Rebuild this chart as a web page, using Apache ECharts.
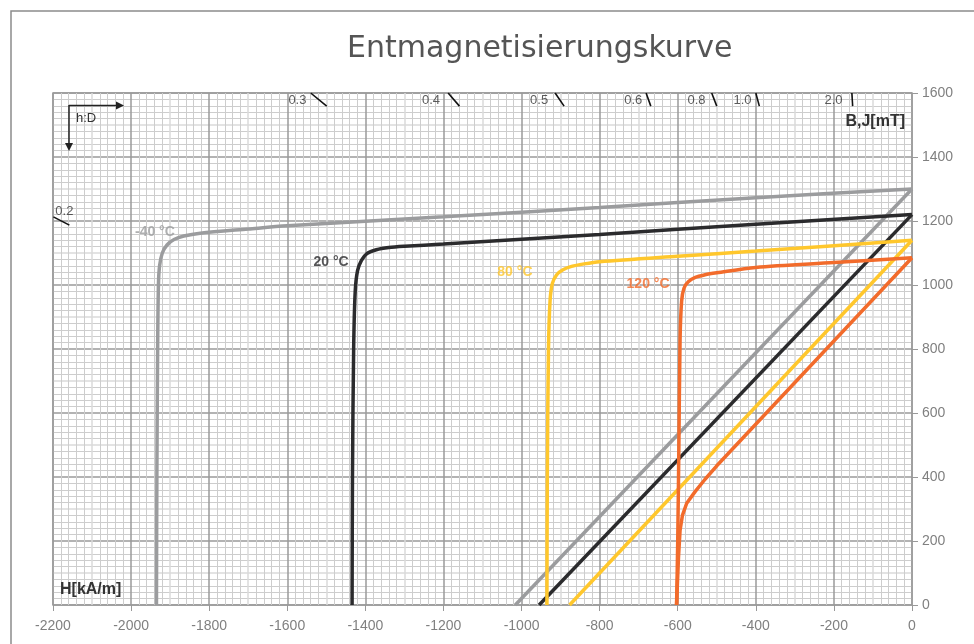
<!DOCTYPE html>
<html>
<head>
<meta charset="utf-8">
<script src="https://cdn.jsdelivr.net/npm/echarts@6/dist/echarts.min.js"></script>
<style>
  html, body { margin: 0; padding: 0; background: #fff; }
  #main { width: 974px; height: 644px; }
</style>
</head>
<body>
<div id="main"></div>
<script>
// H in kA/m, B/J in mT
const tempNames = ["-40 °C", "20 °C", "80 °C", "120 °C"];

const jMinus40 = [[-1935, 0], [-1934, 400], [-1932, 800], [-1930, 1000], [-1927, 1060], [-1920, 1100], [-1908, 1125], [-1890, 1142], [-1865, 1153], [-1823, 1162], [-1700, 1175], [-1600, 1185], [-1200, 1213], [-800, 1242], [-400, 1273], [0, 1300]];
const bMinus40 = [[-1016, 0], [0, 1300]];

const j20 = [[-1434, 0], [-1433, 400], [-1430, 800], [-1426, 980], [-1420, 1045], [-1410, 1077], [-1396, 1098], [-1372, 1110], [-1340, 1117], [-1300, 1121], [-1200, 1128], [-800, 1158], [-400, 1190], [0, 1220]];
const b20 = [[-955, 0], [0, 1220]];

const j80 = [[-935, 0], [-934, 400], [-931, 800], [-927, 950], [-921, 1005], [-910, 1032], [-895, 1047], [-872, 1058], [-840, 1066], [-800, 1073], [-600, 1090], [-400, 1106], [0, 1140]];
const b80 = [[-877, 0], [0, 1140]];

const j120 = [[-603, 0], [-600, 200], [-597, 500], [-594, 830], [-590, 950], [-584, 990], [-573, 1010], [-555, 1024], [-530, 1032], [-500, 1038], [-400, 1055], [-200, 1070], [0, 1085]];
const b120 = [[-603, 0], [-601, 60], [-598, 150], [-594, 234], [-588, 280], [-577, 318], [-555, 355], [-530, 393], [-500, 435], [0, 1085]];

// where the temperature names sit
const tempLabelAt = [[-1939, 1166], [-1488, 1072], [-1017, 1041], [-676, 1003]];

// h:D marks along the top
const hdNames = ["0.2", "0.3", "0.4", "0.5", "0.6", "0.8", "1.0", "2.0"];
const hdStart = [[-2199, 1213], [-1540, 1600], [-1188, 1600], [-914, 1600], [-681, 1600], [-513, 1600], [-400, 1600], [-154, 1600]];
const hdEnd = [[-2158, 1187], [-1499, 1559], [-1159, 1559], [-891, 1559], [-669, 1559], [-500, 1559], [-391, 1559], [-152, 1559]];
const hdLabelAt = [[-2171, 1231], [-1574, 1578], [-1232, 1578], [-955, 1578], [-714, 1578], [-552, 1578], [-434, 1578], [-201, 1578]];

const colors = ["#9b9c9e", "#2b2b2d", "#ffc72c", "#f26b2b"];
const curves = [[jMinus40, bMinus40], [j20, b20], [j80, b80], [j120, b120]];

function textSeries(point, text, color, font) {
  return {
    type: "scatter",
    data: [point],
    symbol: "circle",
    symbolSize: 2,
    itemStyle: { color: "rgba(0,0,0,0)" },
    label: Object.assign({
      show: true,
      position: "inside",
      formatter: text,
      color: color,
      fontFamily: "Liberation Sans"
    }, font),
    labelLayout: { hideOverlap: false },
    z: 12,
    silent: true
  };
}

var series = [];
curves.forEach(function (pair, i) {
  pair.forEach(function (pts, k) {
    series.push({
      type: "line",
      data: pts,
      xAxisIndex: 0,
      yAxisIndex: 0,
      symbol: "none",
      smooth: k === 0 ? 0.3 : false,
      lineStyle: { color: colors[i], width: 3.5 },
      z: 5 + i,
      silent: true
    });
  });
  series.push(textSeries(tempLabelAt[i], tempNames[i], colors[i], { fontWeight: "bold", fontSize: 14 }));
});

hdNames.forEach(function (name, i) {
  series.push({
    type: "line",
    data: [hdStart[i], hdEnd[i]],
    symbol: "none",
    lineStyle: { color: "#111", width: 1.6 },
    z: 10,
    silent: true
  });
  series.push(textSeries(hdLabelAt[i], name, "#333", { fontSize: 13 }));
});

function plain(v) { return String(v); }

var option = {
  animation: false,
  title: {
    text: "Entmagnetisierungskurve",
    left: 342,
    top: 29,
    textStyle: { fontFamily: "DejaVu Sans", fontSize: 30, fontWeight: "normal", color: "#555" }
  },
  grid: {
    left: 53, right: 62, top: 93, bottom: 39,
    show: true, borderColor: "#999", borderWidth: 1.5
  },
  xAxis: [
    {
      type: "value", min: -2200, max: 0, interval: 100,
      axisLine: { show: false }, axisTick: { show: false }, axisLabel: { show: false },
      splitLine: { show: true, lineStyle: { color: ["#9a9a9a", "#dadada"], width: 1.5 } },
      minorTick: { show: false, splitNumber: 5 },
      minorSplitLine: { show: true, lineStyle: { color: "#cdcdcd", width: 1 } }
    },
    {
      type: "value", min: -2200, max: 0, interval: 200, position: "bottom",
      axisLine: { show: false },
      axisTick: { show: true, length: 6, lineStyle: { color: "#999" } },
      axisLabel: { color: "#808080", fontFamily: "Liberation Sans", fontSize: 14, margin: 14, formatter: plain },
      splitLine: { show: false }
    }
  ],
  yAxis: [
    {
      type: "value", min: 0, max: 1600, interval: 100, position: "right",
      axisLine: { show: false }, axisTick: { show: false }, axisLabel: { show: false },
      splitLine: { show: true, lineStyle: { color: ["#9a9a9a", "#dadada"], width: 1.5 } },
      minorTick: { show: false, splitNumber: 5 },
      minorSplitLine: { show: true, lineStyle: { color: "#cdcdcd", width: 1 } }
    },
    {
      type: "value", min: 0, max: 1600, interval: 200, position: "right",
      axisLine: { show: false },
      axisTick: { show: true, length: 6, lineStyle: { color: "#999" } },
      axisLabel: { color: "#808080", fontFamily: "Liberation Sans", fontSize: 14, margin: 10, formatter: plain },
      splitLine: { show: false }
    }
  ],
  graphic: [
    { type: "rect", shape: { x: 11, y: 11, width: 1000, height: 1000 }, style: { fill: null, stroke: "#8c8c8c", lineWidth: 1.5 }, silent: true },
    { type: "line", shape: { x1: 69, y1: 105.5, x2: 118, y2: 105.5 }, style: { stroke: "#222", lineWidth: 1.5 }, z: 20 },
    { type: "polygon", shape: { points: [[124, 105.5], [116, 101.5], [116, 109.5]] }, style: { fill: "#222" }, z: 20 },
    { type: "line", shape: { x1: 69, y1: 105, x2: 69, y2: 144 }, style: { stroke: "#222", lineWidth: 1.5 }, z: 20 },
    { type: "polygon", shape: { points: [[69, 151], [65, 143], [73, 143]] }, style: { fill: "#222" }, z: 20 },
    { type: "text", left: 76, top: 112, style: { text: "h:D", fill: "#333", font: "13px 'Liberation Sans'" }, z: 20 },
    { type: "text", right: 69, top: 114, style: { text: "B,J[mT]", fill: "#333", font: "bold 16px 'Liberation Sans'" }, z: 20 },
    { type: "text", left: 60, top: 582, style: { text: "H[kA/m]", fill: "#333", font: "bold 16px 'Liberation Sans'" }, z: 20 }
  ],
  series: series
};

var myChart = echarts.init(document.getElementById("main"));
myChart.setOption(option);
</script>
</body>
</html>
